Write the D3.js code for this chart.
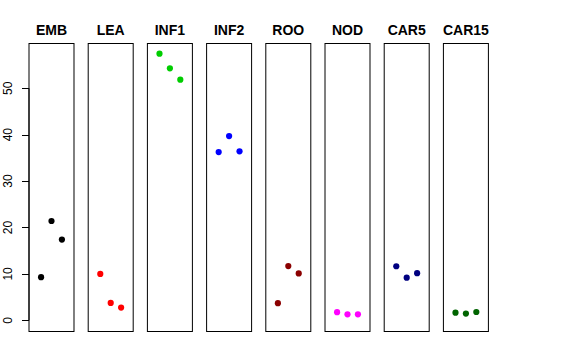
<!DOCTYPE html>
<html><head><meta charset="utf-8">
<script src="https://cdn.jsdelivr.net/npm/d3@7"></script>
<style>body{margin:0;background:#fff}svg{display:block}text{font-family:"Liberation Sans",Arial,Helvetica,sans-serif}</style>
</head><body><svg id="c" width="576" height="360"></svg>
<script>
const categories = ["EMB","LEA","INF1","INF2","ROO","NOD","CAR5","CAR15"];
const colors = ["#000000","#FF0000","#00CD00","#0000FF","#8B0000","#FF00FF","#000080","#006400"];
const values = [
  [9.3, 21.4, 17.4],
  [10.0, 3.75, 2.75],
  [57.45, 54.3, 51.85],
  [36.25, 39.7, 36.4],
  [3.7, 11.7, 10.1],
  [1.75, 1.3, 1.3],
  [11.65, 9.2, 10.15],
  [1.65, 1.45, 1.8]
];
const yTicks = [0, 10, 20, 30, 40, 50];
const reps = [1, 2, 3];

(function(){
const svg = d3.select("#c");
const plotTop = 43, plotBottom = 331;
const ymax = d3.max(values.flat());
const y = d3.scaleLinear().domain([-0.04*ymax, ymax*1.04]).range([plotBottom, plotTop]);
const px = d3.scaleBand().domain(categories).range([28.5, 487.9]).paddingInner(0.24).paddingOuter(0);
const bw = px.bandwidth();
const xi = d3.scaleLinear().domain([-0.16, 4.16]).range([0, bw]);

categories.forEach((c, i) => {
  const g = svg.append("g").attr("transform", `translate(${px(c)},0)`);
  g.append("rect").attr("x", 0.5).attr("y", plotTop + 0.5).attr("width", bw).attr("height", plotBottom - plotTop)
    .attr("fill", "none").attr("stroke", "#000").attr("stroke-width", 1);
  g.append("text").attr("x", bw/2 + 0.5).attr("y", 34.5).attr("text-anchor", "middle")
    .attr("font-weight", "bold").attr("font-size", 14).text(c);
  g.selectAll("circle").data(values[i]).join("circle")
    .attr("cx", (d, j) => xi(reps[j]) + 0.5).attr("cy", d => y(d)).attr("r", 3.1)
    .attr("fill", colors[i]);
});

// y axis
const x0 = px(categories[0]) + 0.5;
const ax = svg.append("g");
ax.append("line").attr("x1", x0).attr("x2", x0).attr("y1", y(yTicks[0])).attr("y2", y(yTicks[yTicks.length-1])).attr("stroke", "#000");
yTicks.forEach(t => {
  ax.append("line").attr("x1", x0 - 7).attr("x2", x0).attr("y1", Math.round(y(t)) + 0.5).attr("y2", Math.round(y(t)) + 0.5).attr("stroke", "#000");
  ax.append("text").attr("transform", `translate(11.5,${y(t)}) rotate(-90)`).attr("text-anchor", "middle")
    .attr("font-size", 12).text(t);
});
})();
</script></body></html>
